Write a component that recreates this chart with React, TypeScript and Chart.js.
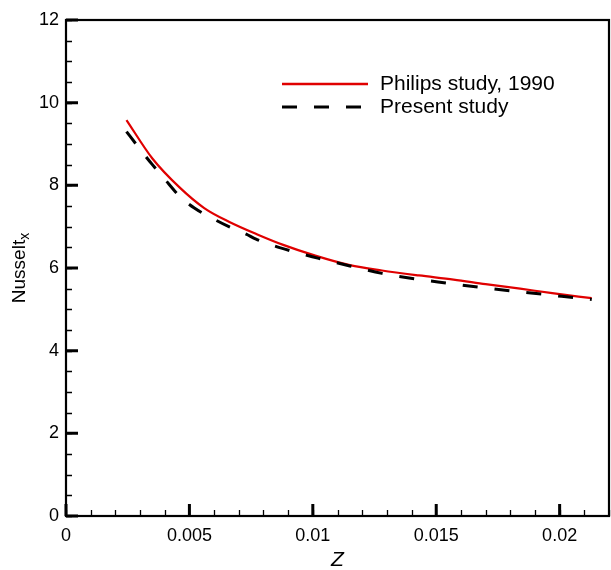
import React, { useEffect, useRef } from "react";
import { Chart, registerables } from "chart.js";

Chart.register(...registerables);

const philipsZ = [0.00245, 0.0035, 0.0046, 0.0056, 0.0066, 0.0078, 0.0088, 0.0101, 0.0115, 0.0128, 0.0143, 0.0157, 0.017, 0.0184, 0.0197, 0.0213];
const philipsNu = [9.58, 8.65, 7.95, 7.45, 7.12, 6.8, 6.56, 6.3, 6.07, 5.94, 5.82, 5.72, 5.61, 5.5, 5.39, 5.27];

const presentZ = [0.00245, 0.0029, 0.0035, 0.004, 0.0046, 0.0052, 0.006, 0.0066, 0.0073, 0.0077, 0.0089, 0.0102, 0.0115, 0.0128, 0.0141, 0.0155, 0.0168, 0.0181, 0.0194, 0.0208, 0.0213];
const presentNu = [9.3, 8.95, 8.5, 8.15, 7.74, 7.45, 7.18, 7.0, 6.82, 6.7, 6.45, 6.24, 6.05, 5.87, 5.74, 5.63, 5.53, 5.44, 5.36, 5.27, 5.24];

const xTickValues = [0, 0.005, 0.01, 0.015, 0.02];
const xTickLabels = ["0", "0.005", "0.01", "0.015", "0.02"];
const yTickValues = [0, 2, 4, 6, 8, 10, 12];
const yTickLabels = ["0", "2", "4", "6", "8", "10", "12"];
const xMinorStep = 0.001;
const yMinorStep = 0.5;

const seriesNames = ["Philips study, 1990", "Present study"];
const FONT = "'Liberation Sans', Arial, Helvetica, sans-serif";

const framePlugin = {
  id: "framePlugin",
  afterDraw(chart: any) {
    const ctx = chart.ctx;
    const { left, right, top, bottom } = chart.chartArea;
    const xs = chart.scales.x;
    const ys = chart.scales.y;
    ctx.save();
    ctx.strokeStyle = "#000";
    // minor ticks
    ctx.lineWidth = 1.3;
    ctx.beginPath();
    for (let v = 0; v <= ys.max + 1e-9; v += yMinorStep) {
      const p = Math.round(ys.getPixelForValue(v)) + 0.5;
      ctx.moveTo(left, p);
      ctx.lineTo(left + 6, p);
    }
    for (let v = 0; v <= xs.max + 1e-12; v += xMinorStep) {
      const p = Math.round(xs.getPixelForValue(v)) + 0.5;
      ctx.moveTo(p, bottom);
      ctx.lineTo(p, bottom - 6);
    }
    ctx.stroke();
    // major ticks
    ctx.lineWidth = 3;
    ctx.beginPath();
    yTickValues.forEach((v) => {
      const p = ys.getPixelForValue(v);
      ctx.moveTo(left, p);
      ctx.lineTo(left + 12, p);
    });
    xTickValues.forEach((v) => {
      const p = xs.getPixelForValue(v);
      ctx.moveTo(p, bottom);
      ctx.lineTo(p, bottom - 12);
    });
    ctx.stroke();
    // frame
    ctx.lineWidth = 2.2;
    ctx.strokeRect(left, top, right - left, bottom - top);

    // legend
    ctx.lineWidth = 2.5;
    ctx.strokeStyle = "#e00000";
    ctx.beginPath();
    ctx.moveTo(282, 84);
    ctx.lineTo(368, 84);
    ctx.stroke();
    ctx.strokeStyle = "#000";
    ctx.lineWidth = 3;
    ctx.setLineDash([15, 17]);
    ctx.beginPath();
    ctx.moveTo(282, 107);
    ctx.lineTo(368, 107);
    ctx.stroke();
    ctx.setLineDash([]);
    ctx.fillStyle = "#000";
    ctx.font = `21px ${FONT}`;
    ctx.textAlign = "left";
    ctx.textBaseline = "middle";
    ctx.fillText(seriesNames[0], 380, 84);
    ctx.fillText(seriesNames[1], 380, 107);

    // x title
    ctx.font = `italic 21px ${FONT}`;
    ctx.textAlign = "center";
    ctx.textBaseline = "middle";
    ctx.fillText("Z", (left + right) / 2, 560);

    // y title with subscript
    ctx.save();
    ctx.translate(18, (top + bottom) / 2);
    ctx.rotate(-Math.PI / 2);
    ctx.font = `19px ${FONT}`;
    const w1 = ctx.measureText("Nusselt").width;
    ctx.font = `14px ${FONT}`;
    const w2 = ctx.measureText("x").width;
    const start = -(w1 + w2) / 2;
    ctx.textAlign = "left";
    ctx.textBaseline = "alphabetic";
    ctx.font = `19px ${FONT}`;
    ctx.fillText("Nusselt", start, 7);
    ctx.font = `14px ${FONT}`;
    ctx.fillText("x", start + w1, 11);
    ctx.restore();

    ctx.restore();
  },
};

export default function App() {
  const ref = useRef<HTMLCanvasElement | null>(null);
  useEffect(() => {
    document.body.style.margin = "0";
    const canvas = ref.current;
    if (!canvas) return;
    const chart = new Chart(canvas, {
      type: "line",
      data: {
        datasets: [
          {
            label: seriesNames[0],
            data: philipsZ.map((x, i) => ({ x, y: philipsNu[i] })),
            borderColor: "#e00000",
            borderWidth: 2.2,
            pointRadius: 0,
            fill: false,
            cubicInterpolationMode: "monotone",
            order: 2,
          },
          {
            label: seriesNames[1],
            data: presentZ.map((x, i) => ({ x, y: presentNu[i] })),
            borderColor: "#000",
            borderWidth: 3,
            borderDash: [15, 17],
            pointRadius: 0,
            fill: false,
            cubicInterpolationMode: "monotone",
            order: 1,
          },
        ],
      },
      options: {
        responsive: false,
        animation: false,
        layout: { padding: { top: 20, right: 2, left: 0, bottom: 0 } },
        plugins: { legend: { display: false }, tooltip: { enabled: false } },
        scales: {
          x: {
            type: "linear",
            min: 0,
            max: 0.022,
            grid: { display: false, drawTicks: false },
            border: { display: false },
            afterBuildTicks: (s: any) => {
              s.ticks = xTickValues.map((v) => ({ value: v }));
            },
            afterFit: (s: any) => {
              s.height = 54;
            },
            ticks: {
              padding: 9,
              color: "#000",
              font: { family: FONT, size: 18 },
              maxRotation: 0,
              callback: (v: any) => {
                const i = xTickValues.findIndex((t) => Math.abs(t - Number(v)) < 1e-9);
                return i >= 0 ? xTickLabels[i] : "";
              },
            },
          },
          y: {
            type: "linear",
            min: 0,
            max: 12,
            grid: { display: false, drawTicks: false },
            border: { display: false },
            afterBuildTicks: (s: any) => {
              s.ticks = yTickValues.map((v) => ({ value: v }));
            },
            afterFit: (s: any) => {
              s.width = 66;
            },
            ticks: {
              padding: 7,
              color: "#000",
              font: { family: FONT, size: 18 },
              callback: (v: any) => {
                const i = yTickValues.indexOf(Number(v));
                return i >= 0 ? yTickLabels[i] : "";
              },
            },
          },
        },
      },
      plugins: [framePlugin],
    } as any);
    return () => chart.destroy();
  }, []);
  return <canvas ref={ref} width={611} height={570} style={{ display: "block" }} />;
}
